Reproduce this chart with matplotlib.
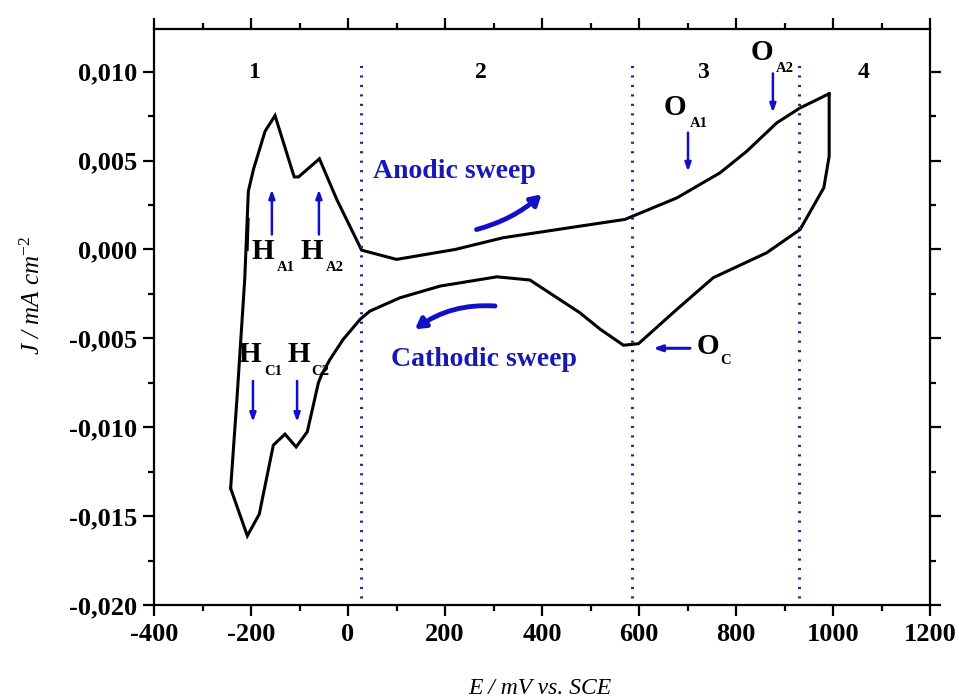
import matplotlib
matplotlib.use("Agg")
import matplotlib.pyplot as plt
from matplotlib.patches import FancyArrowPatch
from matplotlib.ticker import MultipleLocator, FuncFormatter

# ---- data ----
E_anodic = [-242, -229, -213, -205.5, -195, -171, -150.5, -111, -102, -59, -23, 28,
            100, 221, 320, 478, 571, 678, 767, 822, 884, 932, 992]
J_anodic = [-0.01344, -0.0084, -0.0017, 0.00328, 0.0045, 0.00665, 0.00753, 0.00408,
            0.00408, 0.0051, 0.0028, -0.00004, -0.00056, 0.0, 0.00066, 0.00131,
            0.00169, 0.0029, 0.00431, 0.00552, 0.00712, 0.00796, 0.00876]
E_cathodic = [992, 992, 981, 932, 863, 753, 678, 599, 568, 520, 478, 375, 307, 190,
              107, 45, 25, -10, -37, -54, -61, -84, -107, -130, -154, -183, -207.6, -242]
J_cathodic = [0.00876, 0.00524, 0.00347, 0.00112, -0.00019, -0.00159, -0.00337,
              -0.0053, -0.00539, -0.00449, -0.00356, -0.00172, -0.00154, -0.00206,
              -0.00272, -0.00347, -0.00393, -0.00506, -0.00618, -0.00702, -0.00749,
              -0.01026, -0.01111, -0.01039, -0.01101, -0.01489, -0.01611, -0.01344]
E_start = [-208, -206]
J_start = [0.0, 0.0017]

region_bounds = [27, 585, 930]
region_labels = ["1", "2", "3", "4"]
region_label_x = [-194, 274, 732, 1062]

plt.rcParams['font.family'] = ['Liberation Serif', 'DejaVu Serif']
plt.rcParams['mathtext.fontset'] = 'custom'
plt.rcParams['mathtext.rm'] = 'Liberation Serif'
plt.rcParams['mathtext.it'] = 'Liberation Serif:italic'

fig = plt.figure(figsize=(9.59, 6.99), dpi=100)
ax = fig.add_axes([0.1606, 0.1345, 0.8092, 0.824])

ax.plot(E_anodic, J_anodic, color='black', lw=2.2, solid_joinstyle='miter')
ax.plot(E_cathodic, J_cathodic, color='black', lw=2.2, solid_joinstyle='miter')
ax.plot(E_start, J_start, color='black', lw=2.2)

ax.set_xlim(-400, 1200)
ax.set_ylim(-0.020, 0.0124)

dot_col = '#26269a'
for xb in region_bounds:
    ax.plot([xb, xb], [-0.0196, 0.0107], color=dot_col, lw=2.2,
            linestyle=(0, (0.7, 2.4)))

for lab, xl in zip(region_labels, region_label_x):
    ax.text(xl, 0.00995, lab, fontsize=17, fontweight='bold', ha='center', va='center')

blue = '#1010c8'
txtblue = '#1818b4'

def lbl(x, y, main, sub, dx, dy):
    ax.text(x, y, main, fontsize=21, fontweight='bold', ha='center', va='center')
    ax.text(x + dx, y + dy, sub, fontsize=10.5, fontweight='bold', ha='center', va='center')

lbl(-175, -0.0001, "H", "A1", 46, -0.00090)
lbl(-74, -0.0001, "H", "A2", 46, -0.00090)
lbl(-202, -0.0059, "H", "C1", 48, -0.00097)
lbl(-101, -0.0059, "H", "C2", 44, -0.00097)
lbl(674, 0.0080, "O", "A1", 49, -0.00092)
lbl(854, 0.01107, "O", "A2", 46, -0.00089)
lbl(742, -0.00545, "O", "C", 36, -0.00078)

def varrow(x, y0, y1):
    ax.annotate("", xy=(x, y1), xytext=(x, y0),
                arrowprops=dict(arrowstyle='-|>,head_length=0.5,head_width=0.18',
                                color=blue, lw=1.8, shrinkA=0, shrinkB=0))

varrow(-157, 0.00084, 0.00337)
varrow(-60, 0.00084, 0.00337)
varrow(-196, -0.0074, -0.0097)
varrow(-105, -0.0074, -0.0097)
varrow(701, 0.00657, 0.00438)
varrow(876, 0.0099, 0.0077)
ax.annotate("", xy=(629, -0.00556), xytext=(705, -0.00556),
            arrowprops=dict(arrowstyle='-|>,head_length=0.5,head_width=0.18',
                            color=blue, lw=2.2, shrinkA=0, shrinkB=0))

ax.text(220, 0.00438, "Anodic sweep", fontsize=20, fontweight='bold', color=txtblue,
        ha='center', va='center')
ax.text(280, -0.0062, "Cathodic sweep", fontsize=20, fontweight='bold', color=txtblue,
        ha='center', va='center')

a1 = FancyArrowPatch((265, 0.00112), (399, 0.0031), connectionstyle="arc3,rad=0.12",
                     arrowstyle='-|>,head_length=6,head_width=3.5', color=blue, lw=3.5,
                     shrinkA=0, shrinkB=0)
ax.add_patch(a1)
a2 = FancyArrowPatch((303, -0.00318), (138, -0.00449), connectionstyle="arc3,rad=0.18",
                     arrowstyle='-|>,head_length=6,head_width=3.5', color=blue, lw=3.5,
                     shrinkA=0, shrinkB=0)
ax.add_patch(a2)

# axes styling
for sp in ax.spines.values():
    sp.set_linewidth(1.6)
ax.xaxis.set_major_locator(MultipleLocator(200))
ax.xaxis.set_minor_locator(MultipleLocator(100))
ax.yaxis.set_major_locator(MultipleLocator(0.005))
ax.yaxis.set_minor_locator(MultipleLocator(0.0025))
ax.tick_params(which='both', direction='out', top=True, right=True, width=1.6)
ax.tick_params(which='major', length=8)
ax.tick_params(which='minor', length=4.5)
ax.tick_params(labelsize=19)
ax.tick_params(axis='x', pad=5)
ax.tick_params(axis='y', pad=4)
ax.yaxis.set_major_formatter(FuncFormatter(lambda v, p: ("%.3f" % v).replace('.', ',').replace('-0,000', '0,000')))
ax.xaxis.set_major_formatter(FuncFormatter(lambda v, p: "%d" % v))
for t in ax.get_xticklabels() + ax.get_yticklabels():
    t.set_fontweight('bold')

ax.set_xlabel("E / mV vs. SCE", fontsize=17, fontstyle='italic')
ax.set_ylabel(r"J / mA cm$^{\mathit{-2}}$", fontsize=18, fontstyle='italic')
ax.xaxis.set_label_coords(0.497, -0.127)
ax.yaxis.set_label_coords(-0.141, 0.538)

fig.savefig("out.png", dpi=100)
